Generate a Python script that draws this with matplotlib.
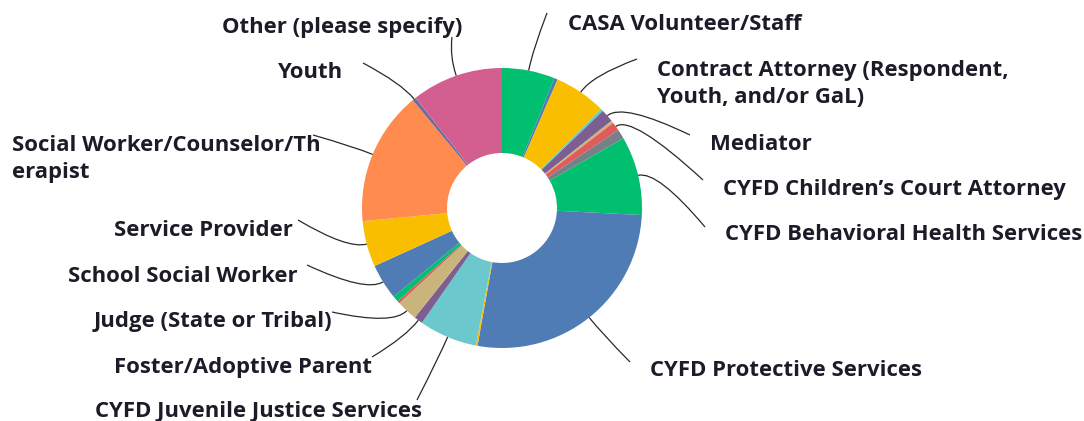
import matplotlib
matplotlib.use("Agg")
import matplotlib.pyplot as plt
from matplotlib.path import Path
from matplotlib.patches import PathPatch
import numpy as np

W, H = 1084, 421

# slice shares (percent), clockwise from 12 o'clock
labels = [
    "CASA Volunteer/Staff", "", "Contract Attorney (Respondent,\nYouth, and/or GaL)", "",
    "Mediator", "", "CYFD Children\u2019s Court Attorney", "",
    "CYFD Behavioral Health Services", "CYFD Protective Services", "",
    "CYFD Juvenile Justice Services", "Foster/Adoptive Parent", "Judge (State or Tribal)",
    "", "", "School Social Worker", "Service Provider",
    "Social Worker/Counselor/Th\nerapist", "Youth", "Other (please specify)",
]
values = [6.1, 0.4, 6.0, 0.3, 1.5, 0.3, 1.0, 1.1, 9.1, 27.0, 0.2,
          6.7, 1.0, 2.4, 0.3, 0.7, 4.1, 5.3, 15.5, 0.4, 10.6]

green, blue, yellow, teal = "#00BF6F", "#507CB6", "#F9BE00", "#6BC8CD"
purple, tan, red, gray = "#7D5E90", "#C9B47B", "#E05B5B", "#768086"
orange, pink = "#FF8B4F", "#D25F90"
colors = [green, blue, yellow, teal, purple, tan, red, gray, green, blue, yellow,
          teal, purple, tan, red, green, blue, yellow, orange, "#6E6A9C", pink]

# label layout in pixels from top-left: text x, text y, alignment, leader end x, y
label_pos = {
    0: (568, 22, "left", 547, 13),
    2: (657, 82, "left", 637, 59),
    4: (710, 142, "left", 690, 135),
    6: (723, 187, "left", 703, 180),
    8: (725, 233, "left", 705, 227),
    9: (650, 368, "left", 630, 362),
    11: (422, 410, "right", 417, 400),
    12: (372, 365, "right", 372, 357),
    13: (332, 320, "right", 332, 312),
    16: (298, 274, "right", 307, 265),
    17: (293, 228, "right", 298, 220),
    18: (12, 157, "left", 313, 135),
    19: (343, 70, "right", 363, 63),
    20: (462, 25, "right", 452, 37),
}

cx, cy, R, hole = 502, 208, 140, 55

fig = plt.figure(figsize=(W / 100, H / 100), dpi=100)
ax = fig.add_axes([0, 0, 1, 1])

wedges, _ = ax.pie(values, colors=colors, startangle=90, counterclock=False,
                   radius=R, center=(cx, H - cy),
                   wedgeprops=dict(width=R - hole, linewidth=0, antialiased=True))
ax.set_xlim(0, W)
ax.set_ylim(0, H)
ax.set_aspect("equal")
ax.axis("off")

family = ["Open Sans", "DejaVu Sans"]
weight = "bold"
# fit font size so a reference label has the width seen in the picture
probe = ax.text(0, 0, "CYFD Protective Services", fontsize=14, family=family,
                weight=weight)
fig.canvas.draw()
wpx = probe.get_window_extent().width
fs = 14 * 273 / wpx
probe.remove()
fs_px = fs * 100 / 72

for i, (tx, ty, ha, lx, ly) in label_pos.items():
    ax.text(tx, H - ty - 2, labels[i], ha=ha, va="center", fontsize=fs, family=family,
            weight=weight, color="#1c1c28", linespacing=1.05 * 29 / fs_px)
    w = wedges[i]
    mid = np.deg2rad((w.theta1 + w.theta2) / 2)
    d = np.array([np.cos(mid), np.sin(mid)])
    p0 = np.array([cx, H - cy]) + R * d
    ctrl = p0 + 20 * d
    p1 = np.array([lx, H - ly])
    path = Path([p0, ctrl, p1], [Path.MOVETO, Path.CURVE3, Path.CURVE3])
    ax.add_patch(PathPatch(path, fill=False, edgecolor="#2a2a2a", lw=0.9))

fig.savefig("out.png", dpi=100, facecolor="white")
